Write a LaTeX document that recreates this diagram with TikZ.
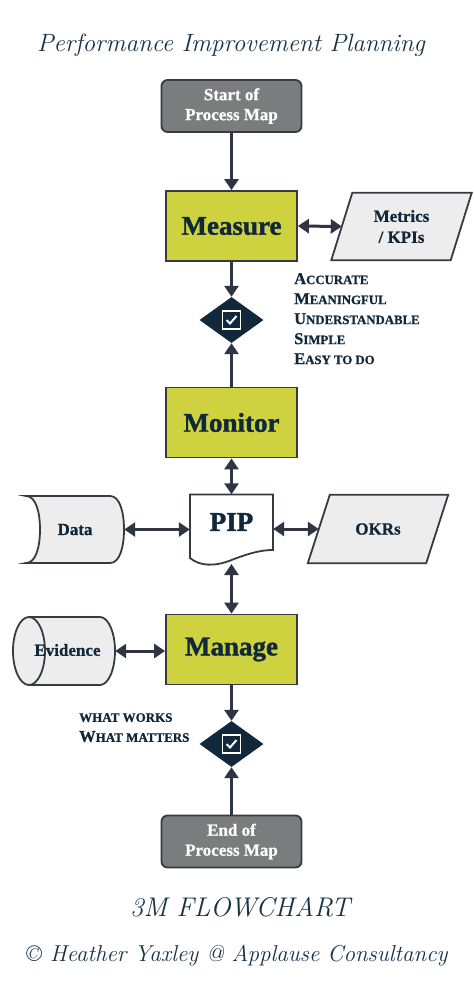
\documentclass[tikz,border=0pt]{standalone}
\usepackage{fontspec}
\newfontfamily\labelfont{Liberation Serif}[BoldFeatures={FakeBold=0.8}]
\newfontfamily\heavyfont{Liberation Serif}[BoldFeatures={FakeBold=1.4}]
\usetikzlibrary{arrows.meta,shapes.geometric}
\pgfdeclarelayer{background}
\pgfsetlayers{background,main}
\definecolor{navy}{HTML}{10283A}
\definecolor{inkc}{HTML}{173244}
\definecolor{arrowc}{HTML}{2F3542}
\definecolor{lime}{HTML}{CED23E}
\definecolor{greybox}{HTML}{7A7C7D}
\definecolor{lightfill}{HTML}{EDEDED}
\definecolor{edgec}{HTML}{363B43}
\newcommand{\fsc}[3][12.8]{#2{\fontsize{#1}{20}\selectfont #3}}
\begin{document}
\begin{tikzpicture}[x=1pt,y=-1pt,
  termbox/.style={draw=edgec, line width=1.8pt, fill=greybox, rounded corners=6pt,
    minimum width=140pt, minimum height=52pt, align=center, text=white, inner sep=0pt,
    font=\labelfont\bfseries\fontsize{17}{20}\selectfont},
  stagebox/.style={draw=edgec, line width=1.8pt, fill=lime, minimum width=131pt,
    minimum height=70pt, inner sep=0pt, text=navy,
    font=\heavyfont\bfseries\fontsize{27}{30}\selectfont},
  holder/.style={inner sep=0pt, align=center, text=navy,
    font=\labelfont\bfseries\fontsize{17}{21}\selectfont},
  shapeline/.style={draw=edgec, line width=1.8pt, fill=lightfill},
  checkdia/.style={diamond, fill=navy, minimum width=64pt, minimum height=46pt, inner sep=0pt},
  checkbox/.style={draw=white, line width=1.6pt, minimum size=18pt, inner sep=0pt},
  checkline/.style={white, line width=2pt},
  flow/.style={draw=arrowc, line width=3pt, -{Triangle[length=11pt,width=14pt]}},
  flowboth/.style={draw=arrowc, line width=3pt, {Triangle[length=11pt,width=14pt]}-{Triangle[length=11pt,width=14pt]}},
  scripttext/.style={text=inkc, inner sep=0pt, font=\itshape\fontsize{25}{30}\selectfont},
  listtext/.style={text=navy, inner sep=0pt, align=left, font=\labelfont\bfseries\fontsize{16.5}{20}\selectfont}
]
\useasboundingbox (0,0) rectangle (474,1002);

% title
\node[scripttext] (title) at (231,45) {Performance Improvement Planning};

% terminals and stages
\node[termbox] (start) at (231.5,106) {Start of\\Process Map};
\node[stagebox] (measure) at (231.5,226) {Measure};
\node[holder, minimum width=119pt, minimum height=67pt] (metrics) at (401.5,226.5) {Metrics\\/ KPIs};
\node[checkdia] (d1) at (231.5,320) {};
\node[checkbox] (box1) at (d1.center) {};
\draw[checkline] ([xshift=-5pt]box1.center) -- ([xshift=-1.5pt,yshift=-3.5pt]box1.center) -- ([xshift=5pt,yshift=4pt]box1.center);
\node[listtext, anchor=north west] (crit) at (294,273) {\fsc{A}{CCURATE}\\\fsc{M}{EANINGFUL}\\\fsc{U}{NDERSTANDABLE}\\\fsc{S}{IMPLE}\\\fsc{E}{ASY TO DO}};

\node[stagebox] (monitor) at (231.5,422.5) {Monitor};

\node[holder, minimum width=83pt, minimum height=67pt] (pip) at (231.5,528) {};
\node[holder, font=\heavyfont\bfseries\fontsize{27}{30}\selectfont] (piptext) at (231.5,522) {PIP};
\coordinate (pipb) at (231.5,564);
\node[holder, minimum width=98pt, minimum height=67pt] (data) at (75,529.5) {Data};
\node[holder, minimum width=118pt, minimum height=68pt] (okrs) at (378,529) {OKRs};

\node[stagebox] (manage) at (231.5,649.5) {Manage};
\node[holder, minimum width=102pt, minimum height=68pt] (evid) at (64,651) {};
\node[holder] (evtext) at (67.5,650) {Evidence};

\node[checkdia] (d2) at (231.5,744) {};
\node[checkbox] (box2) at (d2.center) {};
\draw[checkline] ([xshift=-5pt]box2.center) -- ([xshift=-1.5pt,yshift=-3.5pt]box2.center) -- ([xshift=5pt,yshift=4pt]box2.center);
\node[listtext, anchor=north west] (works) at (79,713)
  {{\fontsize{13}{20}\selectfont WHAT WORKS}\\\fsc[13]{W}{HAT MATTERS}};

\node[termbox] (end) at (231.5,841.5) {End of\\Process Map};

\node[scripttext, font=\itshape\fontsize{27}{30}\selectfont] (chart) at (240,907) {3M FLOWCHART};
\node[scripttext, font=\itshape\fontsize{23}{28}\selectfont] (credit) at (237,956) {© Heather Yaxley @ Applause Consultancy};

% shapes behind labels
\begin{pgfonlayer}{background}
  \fill[white] (0,0) rectangle (474,1002);
  \draw[shapeline] ([xshift=10.5pt]metrics.north west) -- ([xshift=10.5pt]metrics.north east)
    -- ([xshift=-10.5pt]metrics.south east) -- ([xshift=-10.5pt]metrics.south west) -- cycle;
  \draw[shapeline] ([xshift=11pt]okrs.north west) -- ([xshift=11pt]okrs.north east)
    -- ([xshift=-11pt]okrs.south east) -- ([xshift=-11pt]okrs.south west) -- cycle;
  \begin{scope}[shift={(data.center)}]
    \draw[shapeline] (-49,-33.5) -- (35,-33.5) .. controls (45,-33.5) and (49,-17) .. (49,0)
      .. controls (49,17) and (45,33.5) .. (35,33.5) -- (-49,33.5)
      .. controls (-39,33.5) and (-35,17) .. (-35,0) .. controls (-35,-17) and (-39,-33.5) .. (-49,-33.5) -- cycle;
  \end{scope}
  \begin{scope}[shift={(pip.center)}]
    \draw[draw=edgec, line width=1.8pt, fill=white] (-41.5,-33.5) -- (41.5,-33.5) -- (41.5,22)
      .. controls (30,22) and (18,25) .. (0,32) .. controls (-17,39) and (-32,38) .. (-41.5,30) -- cycle;
  \end{scope}
  \begin{scope}[shift={(evid.center)}]
    \draw[shapeline] (-35,-34) -- (36,-34) arc[start angle=-90, end angle=90, x radius=15, y radius=34]
      -- (-35,34) -- cycle;
    \draw[shapeline] (-35,0) ellipse[x radius=16, y radius=34];
  \end{scope}
\end{pgfonlayer}

% connectors
\draw[flow] (start.south) -- (measure.north);
\draw[flowboth] (measure.east) -- (metrics.west);
\draw[flow] (measure.south) -- (d1.north);
\draw[flow] (monitor.north) -- (d1.south);
\draw[flowboth] (monitor.south) -- (pip.north);
\draw[flowboth] (data.east) -- (data.east -| pip.west);
\draw[flowboth] (okrs.west -| pip.east) -- (okrs.west);
\draw[flowboth] (pipb) -- (manage.north);
\draw[flowboth] (evid.east) -- (evid.east -| manage.west);
\draw[flow] (manage.south) -- (d2.north);
\draw[flow] (end.north) -- (d2.south);
\end{tikzpicture}
\end{document}
